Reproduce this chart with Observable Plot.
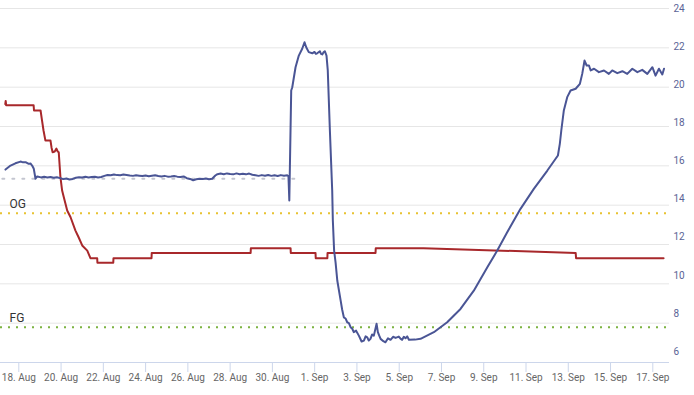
<!DOCTYPE html>
<html><head><meta charset="utf-8">
<script src="https://cdn.jsdelivr.net/npm/d3@7"></script>
<script src="https://cdn.jsdelivr.net/npm/@observablehq/plot@0.6"></script>
<style>
body{margin:0;background:#fff;}
#chart svg{display:block;}
</style></head><body><div id="chart"></div>
<script>
// Time values are days counted from the start date (00:00 UTC)
const startDate = "2023-08-18";
const tickDates = ["2023-08-18","2023-08-20","2023-08-22","2023-08-24","2023-08-26","2023-08-28","2023-08-30",
  "2023-09-01","2023-09-03","2023-09-05","2023-09-07","2023-09-09","2023-09-11","2023-09-13","2023-09-15","2023-09-17"];
const yTickValues = [6,8,10,12,14,16,18,20,22,24];

const ogValue = 13.26;
const fgValue = 7.28;
const refLabels = ["OG","FG"];
const refValues = [ogValue, fgValue];

const grayDays = [-0.78, 13.09];
const grayVals = [15.07, 15.07];

const redDays = [-0.64,-0.62,-0.60,0.70,0.72,1.03,1.10,1.17,1.26,1.50,1.55,1.60,1.70,1.78,1.84,1.89,1.97,2.05,2.13,2.29,2.45,2.68,2.83,3.00,3.24,3.39,
  3.71,3.72,4.47,4.48,6.28,6.29,10.97,10.98,12.86,12.87,14.04,14.05,14.60,14.61,16.88,16.89,19.15,26.35,26.37,30.51];
const redVals = [18.98,19.15,18.93,18.93,18.65,18.65,18.12,17.60,17.07,17.07,16.70,16.46,16.50,16.65,16.50,16.46,15.15,14.45,14.10,13.40,13.05,12.35,12.00,11.57,11.30,10.90,
  10.90,10.66,10.66,10.90,10.90,11.18,11.18,11.42,11.42,11.18,11.18,10.90,10.90,11.18,11.18,11.42,11.42,11.18,10.90,10.90];

const blueDays = [-0.63,-0.39,-0.16,0.08,0.20,0.32,0.47,0.55,0.63,0.71,0.79,0.87,1.05,1.2,1.35,1.5,1.65,1.8,1.95,2.1,2.25,2.4,2.55,2.7,2.85,3.0,3.15,3.3,3.45,3.6,3.75,3.9,
  4.05,4.2,4.35,4.5,4.65,4.8,4.95,5.1,5.25,5.4,5.55,5.7,5.85,6.0,6.15,6.3,6.45,6.6,6.75,6.9,7.05,7.2,7.35,7.5,7.65,7.8,7.95,8.1,8.25,8.4,8.55,8.7,8.85,9.0,9.15,
  9.3,9.4,9.55,9.7,9.85,10.0,10.15,10.3,10.45,10.6,10.75,10.9,11.05,11.2,11.35,11.5,11.65,11.8,11.95,12.1,12.25,12.4,12.55,12.7,12.76,12.80,
  12.89,12.94,13.095,13.25,13.41,13.52,13.60,13.72,13.89,13.99,14.06,14.12,14.245,14.30,14.36,14.42,14.48,14.56,14.62,14.72,14.83,14.86,14.92,14.99,15.07,
  15.23,15.30,15.38,15.46,15.54,15.62,15.70,15.78,15.85,15.96,16.09,16.22,16.33,16.41,16.49,16.56,16.64,16.72,16.80,16.93,16.99,17.05,17.12,17.25,17.35,17.47,
  17.59,17.71,17.83,17.98,18.06,18.14,18.22,18.30,18.38,18.46,18.75,19.01,19.64,20.27,20.90,21.53,22.17,22.64,23.11,23.74,24.37,25.01,25.51,25.60,25.67,25.79,
  25.95,26.11,26.35,26.55,26.66,26.77,26.87,26.98,27.06,27.22,27.45,27.69,27.92,28.08,28.32,28.56,28.79,29.03,29.27,29.50,29.74,29.98,30.13,30.29,30.45,30.53];
const blueVals = [15.55,15.76,15.88,15.97,15.93,15.94,15.85,15.87,15.76,15.59,15.07,15.19,15.14,15.17,15.13,15.16,15.12,15.15,15.10,15.05,15.08,15.03,15.06,15.12,15.15,15.13,15.17,15.13,15.16,15.17,15.14,15.16,
  15.22,15.27,15.25,15.29,15.26,15.25,15.29,15.27,15.24,15.22,15.25,15.23,15.21,15.24,15.20,15.23,15.25,15.21,15.19,15.22,15.18,15.19,15.21,15.18,15.16,15.19,15.10,15.06,14.99,15.04,15.07,15.05,15.08,15.04,15.07,
  15.24,15.31,15.34,15.31,15.35,15.32,15.30,15.35,15.31,15.33,15.30,15.34,15.28,15.25,15.22,15.26,15.23,15.27,15.22,15.25,15.21,15.26,15.23,15.25,15.20,13.93,
  19.70,19.87,20.92,21.53,21.89,22.23,21.97,21.71,21.65,21.72,21.62,21.65,21.76,21.62,21.59,21.70,21.76,21.53,20.75,17.60,14.45,12.88,11.30,10.67,9.73,
  8.68,8.21,7.80,7.74,7.54,7.50,7.28,7.20,7.02,7.10,6.84,6.53,6.58,6.80,6.75,6.58,6.67,6.90,6.84,7.46,7.02,6.85,6.67,6.55,6.49,6.70,
  6.62,6.78,6.72,6.79,6.68,6.62,6.78,6.70,6.80,6.62,6.63,6.67,7.02,7.54,8.24,9.20,10.43,11.30,12.26,13.49,14.54,15.50,16.29,16.90,17.60,18.65,
  19.35,19.70,19.79,20.05,20.57,21.27,21.01,21.01,20.75,20.84,20.66,20.75,20.57,20.75,20.61,20.71,20.57,20.84,20.66,20.78,20.57,20.92,20.48,20.84,20.54,20.84];

const base = new Date(startDate + "T00:00:00Z").getTime();
const toDate = d => new Date(base + d * 864e5);
const zip = (ds, vs) => ds.map((d, i) => ({t: toDate(d), v: vs[i]}));
const red = zip(redDays, redVals);
const blue = zip(blueDays, blueVals);
const gray = zip(grayDays, grayVals);
const ticks = tickDates.map(s => new Date(s + "T00:00:00Z"));
const refs = refLabels.map((l, i) => ({label: l, v: refValues[i]}));

const xDomain = [toDate(-0.866), toDate(30.79)];
const yTop = 24, yBottom = 5.43;
const grid = d3.range(9).map(i => yTop - i * (yTop - yBottom) / 9);

const chart = Plot.plot({
  width: 694, height: 395,
  marginLeft: 0, marginRight: 25, marginTop: 8, marginBottom: 33,
  style: {fontFamily: "Roboto, sans-serif", fontSize: "10px", background: "#fff"},
  x: {type: "utc", domain: xDomain},
  y: {domain: [yBottom, yTop]},
  marks: [
    Plot.ruleY(grid, {stroke: "#e6e6e6", strokeWidth: 1}),
    Plot.ruleY([yBottom], {stroke: "#ccd6eb", strokeWidth: 1}),
    Plot.axisX(ticks, {tickSize: 10, tickPadding: 1, stroke: "#ccd6eb", fill: "#666", fontSize: 10,
      tickFormat: d3.utcFormat("%-d. %b"), label: null}),
    Plot.axisY(yTickValues, {anchor: "right", tickSize: 0, tickPadding: 4, fill: "#5a6396", fontSize: 10, label: null}),
    Plot.ruleY([ogValue], {stroke: "#e8c232", strokeWidth: 2, strokeDasharray: "2,6"}),
    Plot.ruleY([fgValue], {stroke: "#7cb342", strokeWidth: 2, strokeDasharray: "2,6"}),
    Plot.text(refs, {x: () => xDomain[0], y: "v", text: "label", dx: 9, dy: -9, textAnchor: "start", fill: "#333", fontSize: 12}),
    Plot.line(gray, {x: "t", y: "v", stroke: "#c4c6d0", strokeWidth: 2, strokeDasharray: "2,8"}),
    Plot.line(red, {x: "t", y: "v", stroke: "#a8282b", strokeWidth: 2}),
    Plot.line(blue, {x: "t", y: "v", stroke: "#4a5595", strokeWidth: 2})
  ]
});
document.getElementById("chart").append(chart);
</script></body></html>
